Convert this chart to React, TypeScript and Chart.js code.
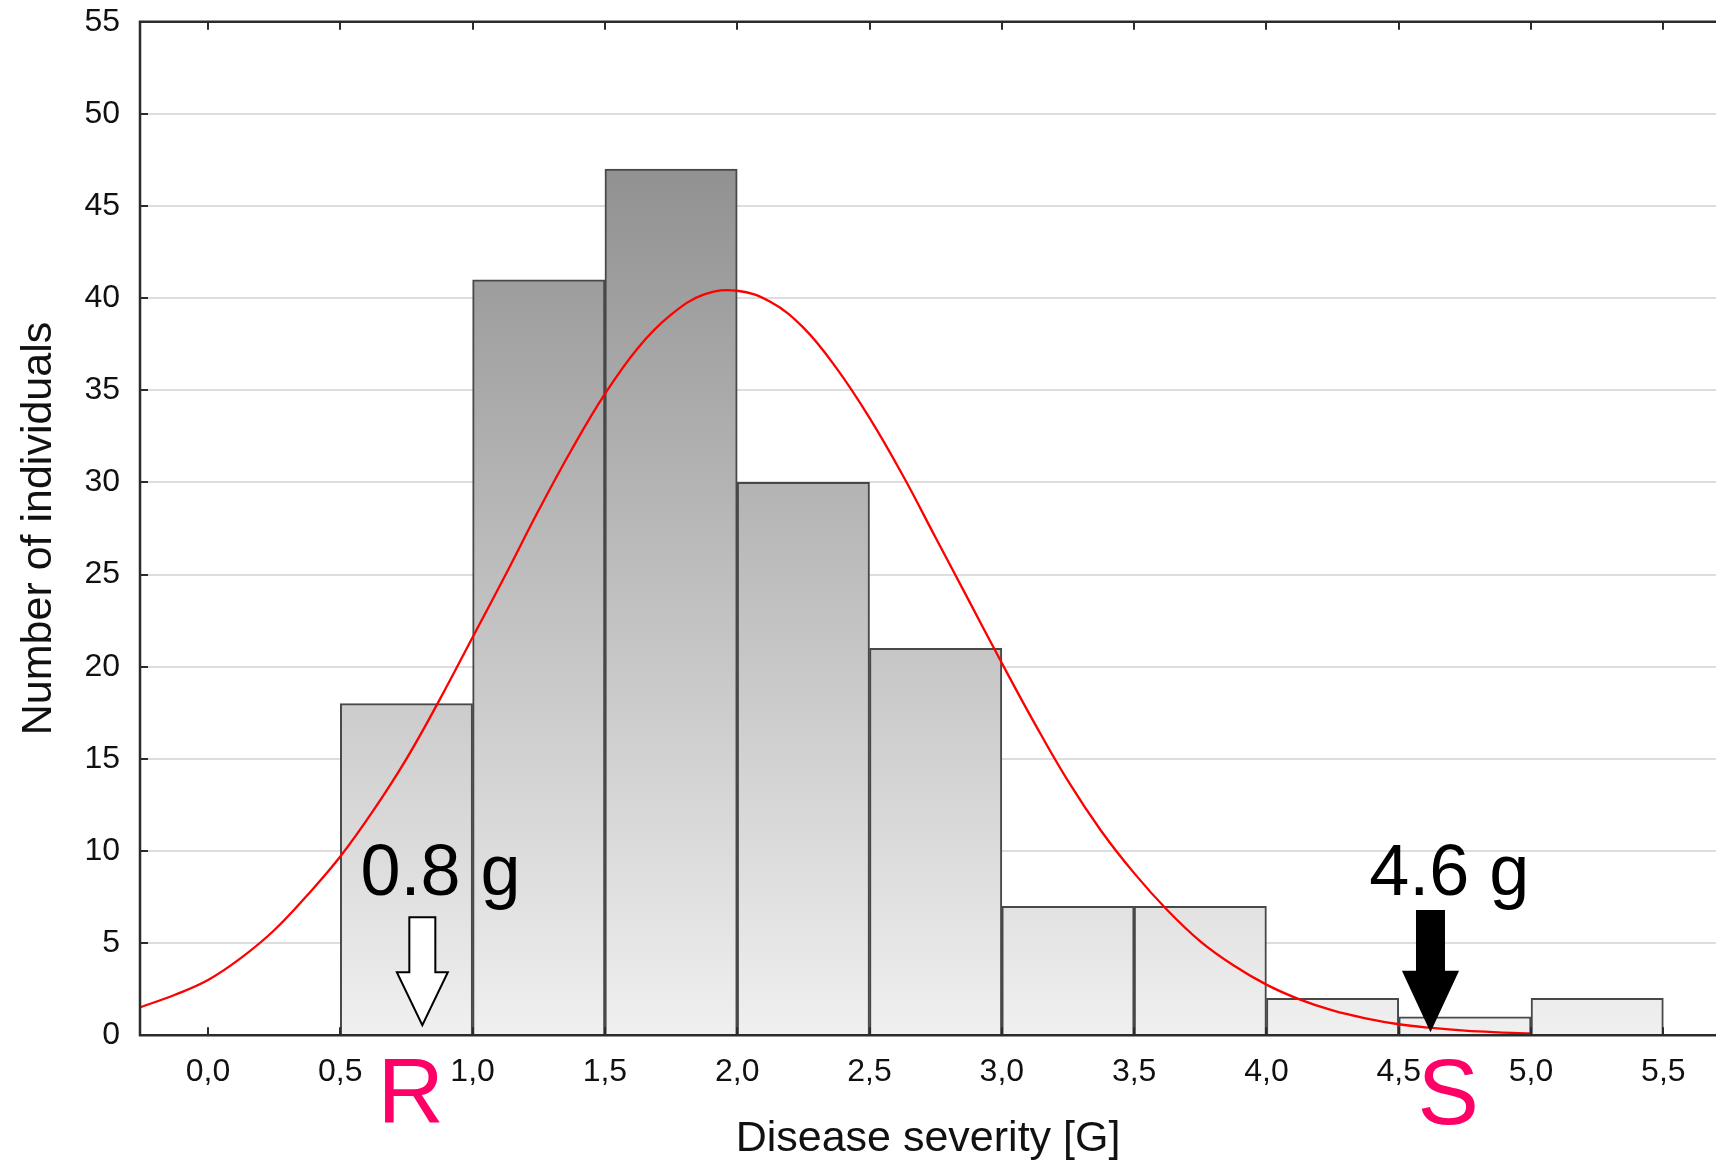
import React, { useEffect, useRef } from 'react';
import { Chart, registerables } from 'chart.js';

Chart.register(...registerables);

// Histogram bins (centre of each 0.5-wide bin) and counts
const binCenters = [0.75, 1.25, 1.75, 2.25, 2.75, 3.25, 3.75, 4.25, 4.75, 5.25];
const binCounts = [18, 41, 47, 30, 21, 7, 7, 2, 1, 2];

// Fitted normal curve
const curveX = [-0.26, -0.125, 0, 0.125, 0.25, 0.375, 0.5, 0.625, 0.75, 0.875, 1, 1.125, 1.25, 1.375, 1.5, 1.625, 1.75, 1.875, 2, 2.125, 2.25, 2.375, 2.5, 2.625, 2.75, 2.875, 3, 3.125, 3.25, 3.375, 3.5, 3.625, 3.75, 3.875, 4, 4.125, 4.25, 4.375, 4.5, 4.625, 4.75, 4.875, 5];
const curveY = [1.5, 2.2, 3.0, 4.2, 5.7, 7.6, 9.7, 12.2, 15.0, 18.2, 21.6, 25.0, 28.5, 31.8, 34.8, 37.3, 39.1, 40.2, 40.4, 39.8, 38.4, 36.2, 33.5, 30.4, 27.0, 23.6, 20.2, 16.9, 13.8, 11.1, 8.8, 6.8, 5.1, 3.8, 2.75, 1.95, 1.35, 0.92, 0.6, 0.4, 0.25, 0.16, 0.1];

// Axis ticks
const xTickValues = [0, 0.5, 1, 1.5, 2, 2.5, 3, 3.5, 4, 4.5, 5, 5.5];
const xTickLabels = ['0,0', '0,5', '1,0', '1,5', '2,0', '2,5', '3,0', '3,5', '4,0', '4,5', '5,0', '5,5'];
const yTickValues = [0, 5, 10, 15, 20, 25, 30, 35, 40, 45, 50, 55];
const yTickLabels = ['0', '5', '10', '15', '20', '25', '30', '35', '40', '45', '50', '55'];

// Annotations
const markerX = [0.81, 4.62];
const markerTipValue = [0.55, 0.3];
const markerTopValue = [6.4, 6.75];
const markerFill = ['#ffffff', '#000000'];
const markerLabels = ['0.8 g', '4.6 g'];
const markerLabelX = [0.879, 4.691];
const markerLabelValue = [7.6, 7.6];
const classLabels = ['R', 'S'];
const classLabelX = [0.766, 4.687];
const classLabelValue = [-4.75, -4.8];

const FONT = '"Liberation Sans", Arial, sans-serif';

function drawArrow(ctx: CanvasRenderingContext2D, cx: number, topY: number, tipY: number, headLen: number, shaftW: number, headW: number, fill: string) {
  const sy = tipY - headLen;
  ctx.beginPath();
  ctx.moveTo(cx - shaftW / 2, topY);
  ctx.lineTo(cx + shaftW / 2, topY);
  ctx.lineTo(cx + shaftW / 2, sy);
  ctx.lineTo(cx + headW / 2, sy);
  ctx.lineTo(cx, tipY);
  ctx.lineTo(cx - headW / 2, sy);
  ctx.lineTo(cx - shaftW / 2, sy);
  ctx.closePath();
  ctx.fillStyle = fill;
  ctx.fill();
  ctx.lineWidth = 2;
  ctx.strokeStyle = '#000000';
  ctx.lineJoin = 'miter';
  ctx.stroke();
}

const framePlugin = {
  id: 'framePlugin',
  afterDraw(chart: any) {
    const { ctx, chartArea, scales } = chart;
    const { left, right, top, bottom } = chartArea;
    const xs = scales.x;
    const ys = scales.y;
    ctx.save();
    // frame
    ctx.strokeStyle = '#2b2b2b';
    ctx.lineWidth = 2.5;
    ctx.beginPath();
    ctx.moveTo(right + 2, top);
    ctx.lineTo(left, top);
    ctx.lineTo(left, bottom);
    ctx.lineTo(right + 2, bottom);
    ctx.stroke();
    // inward ticks
    ctx.lineWidth = 2;
    ctx.beginPath();
    xTickValues.forEach((v) => {
      const px = Math.round(xs.getPixelForValue(v));
      ctx.moveTo(px, bottom);
      ctx.lineTo(px, bottom - 8);
      ctx.moveTo(px, top);
      ctx.lineTo(px, top + 8);
    });
    yTickValues.forEach((v) => {
      const py = Math.round(ys.getPixelForValue(v));
      ctx.moveTo(left, py);
      ctx.lineTo(left + 8, py);
    });
    ctx.stroke();

    // arrows
    markerX.forEach((mx, i) => {
      const cx = xs.getPixelForValue(mx);
      const tipY = ys.getPixelForValue(markerTipValue[i]);
      const topY = ys.getPixelForValue(markerTopValue[i]);
      if (i === 0) drawArrow(ctx, cx, topY, tipY, 53, 26, 51, markerFill[i]);
      else drawArrow(ctx, cx, topY, tipY, 58, 27, 54, markerFill[i]);
    });

    // marker labels
    ctx.fillStyle = '#000000';
    ctx.font = `72px ${FONT}`;
    ctx.textAlign = 'center';
    ctx.textBaseline = 'alphabetic';
    markerLabels.forEach((t, i) => {
      ctx.fillText(t, xs.getPixelForValue(markerLabelX[i]), ys.getPixelForValue(markerLabelValue[i]));
    });

    // class labels
    ctx.fillStyle = '#ff0066';
    ctx.font = `92px ${FONT}`;
    classLabels.forEach((t, i) => {
      ctx.fillText(t, xs.getPixelForValue(classLabelX[i]), ys.getPixelForValue(classLabelValue[i]));
    });
    ctx.restore();
  },
};

export default function App() {
  const ref = useRef<HTMLCanvasElement | null>(null);

  useEffect(() => {
    document.body.style.margin = '0';
    document.body.style.overflow = 'hidden';
    const canvas = ref.current;
    if (!canvas) return;

    const chart = new Chart(canvas, {
      type: 'bar',
      data: {
        datasets: [
          {
            type: 'line',
            label: 'Normal fit',
            data: curveX.map((x, i) => ({ x, y: curveY[i] })),
            borderColor: '#ff0000',
            borderWidth: 2.3,
            pointRadius: 0,
            tension: 0.4,
            fill: false,
            order: 0,
          } as any,
          {
            type: 'bar',
            label: 'Count',
            data: binCenters.map((x, i) => ({ x, y: binCounts[i] })),
            backgroundColor: (c: any) => {
              const ch = c.chart;
              const { chartArea, scales } = ch;
              if (!chartArea || !scales.y) return '#cccccc';
              const y0 = scales.y.getPixelForValue(0);
              const y1 = scales.y.getPixelForValue(47);
              const g = ch.ctx.createLinearGradient(0, y0, 0, y1);
              g.addColorStop(0, '#f0f0f0');
              g.addColorStop(1, '#919191');
              return g;
            },
            borderColor: '#484848',
            borderWidth: 2,
            borderSkipped: 'bottom',
            barPercentage: 1,
            categoryPercentage: 1,
            order: 1,
          } as any,
        ],
      },
      options: {
        responsive: false,
        animation: false,
        layout: { padding: { top: 21.7, left: 0, right: 0, bottom: 0 } },
        plugins: {
          legend: { display: false },
          tooltip: { enabled: false },
        },
        scales: {
          x: {
            type: 'linear',
            min: -0.257,
            max: 5.699,
            offset: false,
            grid: { display: false, offset: false, drawTicks: false },
            border: { display: false },
            afterBuildTicks: (scale: any) => {
              scale.ticks = xTickValues.map((v) => ({ value: v }));
            },
            afterFit: (scale: any) => {
              scale.height = 125.7;
            },
            ticks: {
              padding: 21,
              color: '#111111',
              font: { family: FONT, size: 32, lineHeight: 1 },
              maxRotation: 0,
              autoSkip: false,
              callback: (v: any) => {
                const i = xTickValues.indexOf(Number(v));
                return i >= 0 ? xTickLabels[i] : '';
              },
            },
            title: {
              display: true,
              text: 'Disease severity [G]',
              color: '#111111',
              font: { family: FONT, size: 43, lineHeight: 1 },
              padding: { top: 0, bottom: 0 },
            },
          },
          y: {
            type: 'linear',
            min: 0,
            max: 55,
            grid: { color: '#dddddd', lineWidth: 2, drawTicks: false },
            border: { display: false },
            afterBuildTicks: (scale: any) => {
              scale.ticks = yTickValues.map((v) => ({ value: v }));
            },
            afterFit: (scale: any) => {
              scale.width = 140;
            },
            ticks: {
              padding: 20,
              color: '#111111',
              font: { family: FONT, size: 32, lineHeight: 0.05 },
              autoSkip: false,
              callback: (v: any) => {
                const i = yTickValues.indexOf(Number(v));
                return i >= 0 ? yTickLabels[i] : '';
              },
            },
            title: {
              display: true,
              text: 'Number of individuals',
              color: '#111111',
              font: { family: FONT, size: 43, lineHeight: 1 },
              padding: { top: 18, bottom: 0 },
            },
          },
        },
      },
      plugins: [framePlugin],
    });

    return () => chart.destroy();
  }, []);

  return (
    <div style={{ width: 1716, height: 1161, position: 'relative' }}>
      <canvas ref={ref} width={1716} height={1161} style={{ display: 'block' }} />
    </div>
  );
}
